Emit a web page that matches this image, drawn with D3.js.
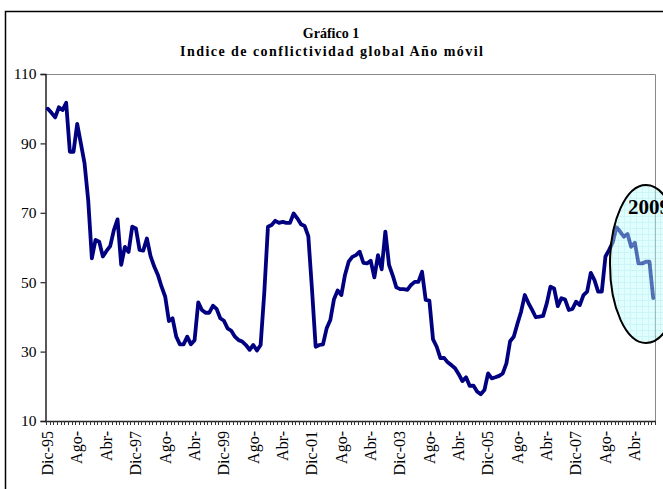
<!DOCTYPE html>
<html>
<head>
<meta charset="utf-8">
<script src="https://cdn.jsdelivr.net/npm/d3@7"></script>
<style>
  body { margin: 0; background: #fff; }
  text { font-family: "Liberation Serif", "Times New Roman", serif; }
</style>
</head>
<body>
<script>
// indice mensual, Dic-95 .. Sep-09
var indice = [
  100, 98.8, 97.5, 100.4, 99.6, 101.7, 87.6, 87.6, 95.6, 90,
  84.3, 73.7, 56.9, 62.2, 61.7, 57.4, 59, 60.4, 65, 68.1,
  55, 60.2, 58.7, 66, 65.5, 59.3, 59.1, 62.6, 57.5, 54.5,
  52.1, 48.7, 45.8, 38.8, 39.6, 34.3, 32.1, 32.1, 34.3, 32.1,
  33.3, 44.2, 42, 41.2, 41.2, 43.2, 42.3, 39.6, 38.9, 36.7,
  36, 34.3, 33.3, 32.9, 31.9, 30.5, 31.9, 30.3, 31.9, 47,
  66, 66.5, 67.7, 67.1, 67.4, 67.1, 67.1, 69.8, 68.4, 66.7,
  66.2, 63.3, 48, 31.4, 31.9, 32.1, 36.7, 39.1, 45.1, 47.6,
  46.3, 52.1, 55.9, 57.3, 57.8, 58.8, 55.6, 55.4, 56.2, 51.4,
  57.8, 53.7, 64.6, 55, 52, 48.5, 48, 48, 47.8, 49.2,
  50.1, 50.1, 53, 44.9, 44.7, 33.5, 31.4, 28.1, 28.2, 26.9,
  26.1, 25.2, 23.5, 21.5, 22.6, 20.1, 20.2, 18.5, 17.7, 18.9,
  23.7, 22.3, 22.6, 23, 23.7, 26.6, 33, 34.3, 38, 41.5,
  46.3, 44, 42, 39.9, 40.1, 40.3, 43.9, 48.7, 48.2, 43.1,
  45.4, 45, 42, 42.3, 44.4, 43.4, 46.3, 47.3, 52.7, 50.6,
  47.3, 47.3, 57.4, 59.3, 61.5, 65.8, 64.6, 63.1, 63.9, 60.2,
  61.4, 55.4, 55.4, 55.9, 55.9, 45.4
];

var xLabels = ["Dic-95", "Ago-", "Abr-", "Dic-97", "Ago-", "Abr-", "Dic-99", "Ago-", "Abr-",
  "Dic-01", "Ago-", "Abr-", "Dic-03", "Ago-", "Abr-", "Dic-05", "Ago-", "Abr-", "Dic-07",
  "Ago-", "Abr-"];
var labelEvery = 8;
var yTicks = [10, 30, 50, 70, 90, 110];

var width = 663, height = 489,
    plotL = 46, plotR = 655, plotT = 74, plotB = 421;

var svg = d3.select("body").append("svg")
    .attr("width", width)
    .attr("height", height);

var months = d3.range(indice.length);

var x = d3.scalePoint()
    .domain(months)
    .range([plotL, plotR])
    .padding(0.5);

var xEdge = d3.scaleLinear()
    .domain([0, indice.length])
    .range([plotL, plotR]);

var y = d3.scaleLinear()
    .domain([10, 110])
    .range([plotB, plotT]);

// outer frame
svg.append("rect")
    .attr("x", 5.5).attr("y", 11.5)
    .attr("width", 700).attr("height", 500)
    .attr("fill", "none")
    .attr("stroke", "#000")
    .attr("stroke-width", 1.5);

// title
svg.append("text")
    .attr("x", 331).attr("y", 38)
    .attr("text-anchor", "middle")
    .style("font-size", "14px").style("font-weight", "bold")
    .text("Gráfico 1");

svg.append("text")
    .attr("x", 180).attr("y", 56)
    .attr("textLength", 303).attr("lengthAdjust", "spacing")
    .style("font-size", "14px").style("font-weight", "bold")
    .text("Indice de conflictividad global Año móvil");

// plot frame (top + right)
svg.append("path")
    .attr("d", "M" + plotL + "," + (plotT + 0.5) + "H" + (plotR + 0.5) + "V" + plotB)
    .attr("fill", "none")
    .attr("stroke", "#888")
    .attr("stroke-width", 1);

// y axis
var yAxis = svg.append("g")
    .attr("transform", "translate(" + (plotL - 0.5) + ",0)")
    .call(d3.axisLeft(y).tickValues(yTicks).tickSize(5).tickPadding(4));
yAxis.select(".domain").attr("stroke", "#222").attr("stroke-width", 1.5);
yAxis.selectAll(".tick line").attr("stroke", "#222").attr("stroke-width", 1.2);
yAxis.selectAll("text").style("font-size", "15.5px").attr("fill", "#000");

// x axis line + monthly ticks
svg.append("line")
    .attr("x1", plotL - 1).attr("x2", plotR + 1)
    .attr("y1", plotB + 0.5).attr("y2", plotB + 0.5)
    .attr("stroke", "#222").attr("stroke-width", 1.5);

svg.append("g").selectAll("line")
    .data(d3.range(indice.length + 1))
    .enter().append("line")
    .attr("x1", function(d) { return Math.round(xEdge(d)) + 0.5; })
    .attr("x2", function(d) { return Math.round(xEdge(d)) + 0.5; })
    .attr("y1", plotB)
    .attr("y2", plotB + 4)
    .attr("stroke", "#333")
    .attr("stroke-width", 1);

svg.append("g").selectAll("text")
    .data(xLabels)
    .enter().append("text")
    .attr("transform", function(d, i) {
        return "translate(" + x(i * labelEvery) + "," + (plotB + 10) + ")rotate(-90)";
    })
    .attr("text-anchor", "end")
    .attr("dy", "0.33em")
    .style("font-size", "16px")
    .text(function(d) { return d; });

// series
var line = d3.line()
    .x(function(d, i) { return x(i); })
    .y(function(d) { return y(d); });

svg.append("path")
    .datum(indice)
    .attr("d", line)
    .attr("fill", "none")
    .attr("stroke", "#000080")
    .attr("stroke-width", 3.8)
    .attr("stroke-linejoin", "round")
    .attr("stroke-linecap", "round");

// 2009 highlight
var defs = svg.append("defs");
var pat = defs.append("pattern")
    .attr("id", "grid")
    .attr("width", 6).attr("height", 6)
    .attr("patternUnits", "userSpaceOnUse");
pat.append("rect").attr("width", 6).attr("height", 6).attr("fill", "#bdfcfc");
pat.append("path")
    .attr("d", "M0,0.5H6M0.5,0V6")
    .attr("stroke", "#8ee8ee")
    .attr("stroke-width", 1);

svg.append("ellipse")
    .attr("cx", 646).attr("cy", 264)
    .attr("rx", 36).attr("ry", 79)
    .attr("fill", "url(#grid)")
    .attr("fill-opacity", 0.45)
    .attr("stroke", "#000")
    .attr("stroke-width", 2);

svg.append("text")
    .attr("x", 628).attr("y", 214)
    .style("font-size", "21px").style("font-weight", "bold")
    .text("2009");
</script>
</body>
</html>
